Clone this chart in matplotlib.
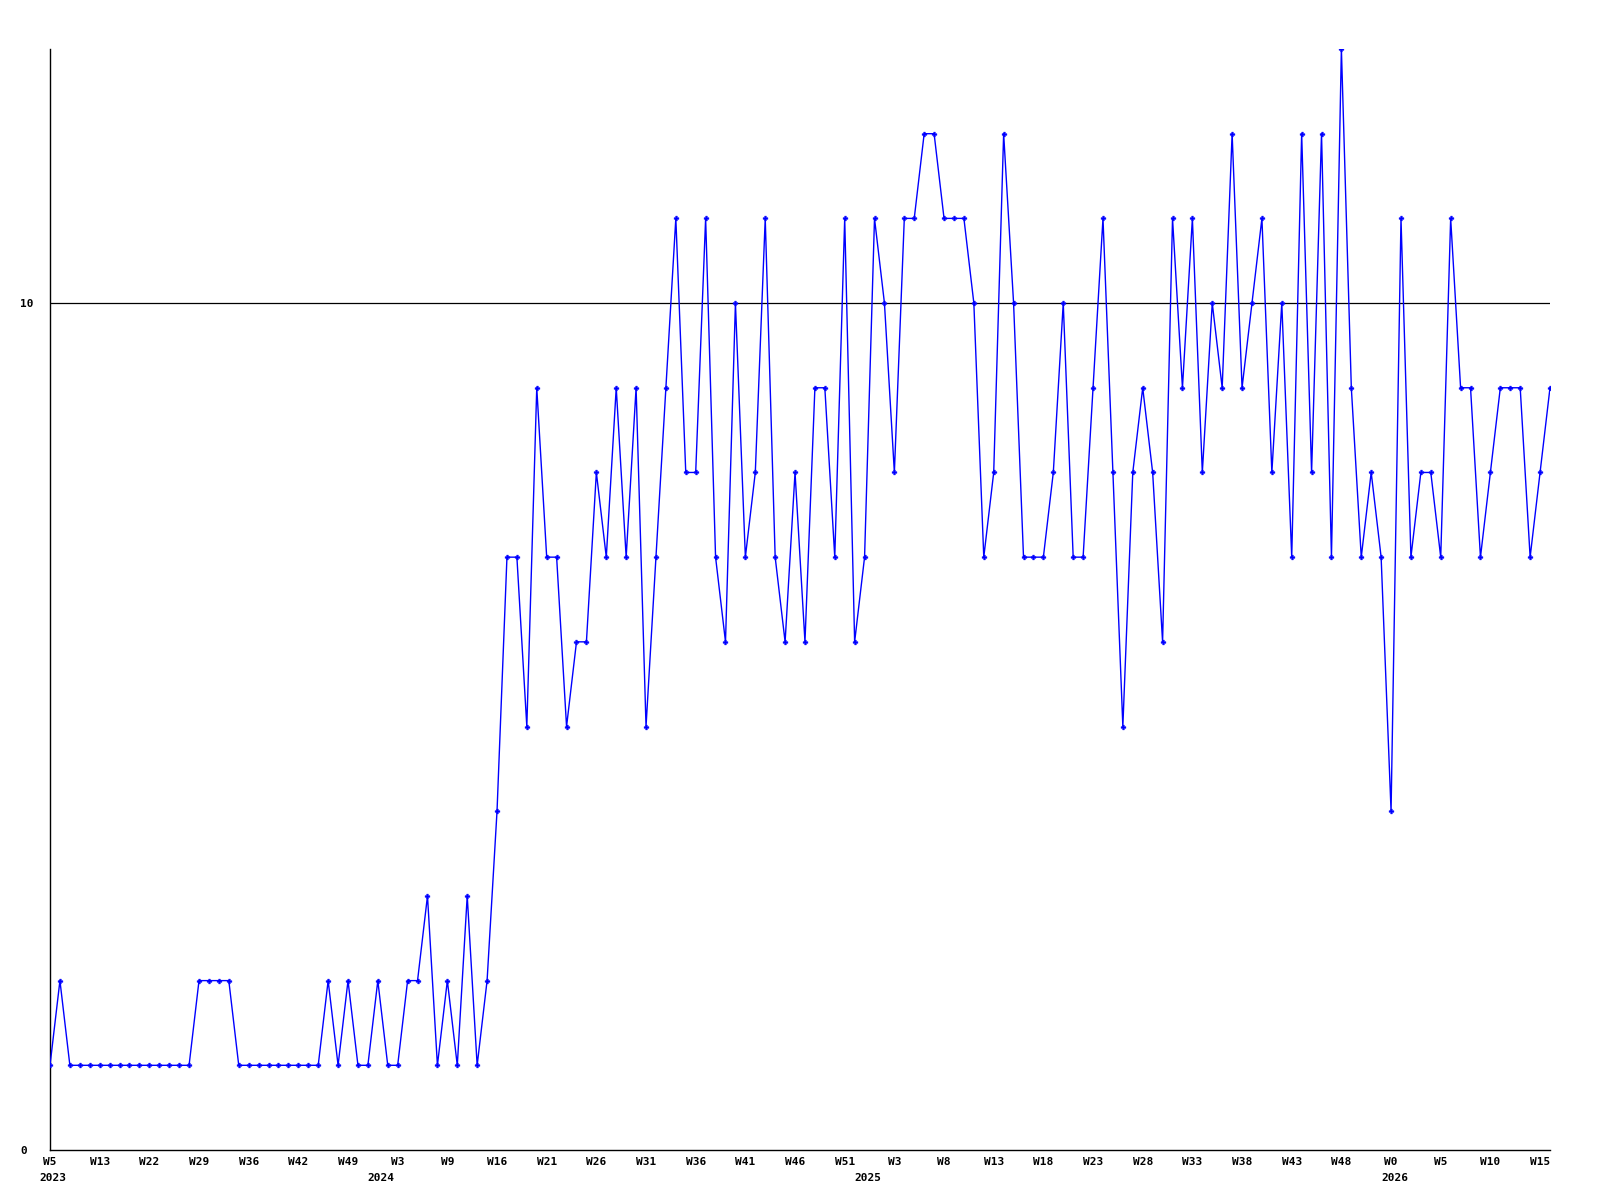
import matplotlib
matplotlib.use("Agg")
import matplotlib.pyplot as plt
import numpy as np

# ---- data ----
values = [1, 2, 1, 1, 1, 1, 1, 1, 1, 1, 1, 1, 1, 1, 1,
          2, 2, 2, 2,
          1, 1, 1, 1, 1, 1, 1, 1, 1,
          2, 1, 2, 1, 1, 2, 1, 1, 2, 2, 3, 1, 2, 1, 3, 1, 2,
          4, 7, 7, 5, 9, 7, 7, 5, 6, 6, 8, 7, 9, 7, 9, 5, 7, 9, 11, 8,
          8, 11, 7, 6, 10, 7, 8, 11, 7, 6, 8, 6, 9, 9, 7,
          11, 6, 7, 11, 10, 8, 11, 11, 12, 12, 11, 11, 11, 10, 7, 8, 12, 10,
          7, 7, 7, 8, 10, 7, 7, 9, 11, 8, 5, 8, 9, 8, 6, 11, 9, 11, 8, 10,
          9, 12, 9, 10, 11, 8, 10, 7, 12, 8, 12, 7, 13, 9, 7, 8, 7, 4, 11,
          7, 8, 8, 7, 11, 9, 9, 7, 8, 9, 9, 9, 7, 8, 9]
week_labels = ["W5", "W13", "W22", "W29", "W36", "W42", "W49", "W3", "W9", "W16",
               "W21", "W26", "W31", "W36", "W41", "W46", "W51", "W3", "W8", "W13",
               "W18", "W23", "W28", "W33", "W38", "W43", "W48", "W0", "W5", "W10", "W15"]
week_label_step = 5
year_labels = ["2023", "2024", "2025", "2026"]
year_label_pos = [0.3, 33.3, 82.3, 135.4]
y_ticks = [0, 10]
ref_line = 10

x = np.arange(len(values))

fig = plt.figure(figsize=(16, 12), dpi=100)
ax = fig.add_axes([50 / 1600, 50 / 1200, 1500 / 1600, 1101 / 1200])

ax.plot(x, values, color="#0000ff", linewidth=1.0, marker="P",
        markersize=3.5, markeredgewidth=0.3, zorder=3)
ax.axhline(ref_line, color="black", linewidth=0.9, zorder=2)

ax.set_xlim(0, len(values) - 1)
ax.set_ylim(0, 13)

for s in ["top", "right"]:
    ax.spines[s].set_visible(False)
for s in ["left", "bottom"]:
    ax.spines[s].set_color("black")
    ax.spines[s].set_linewidth(1.0)

font = dict(family="DejaVu Sans Mono", weight="bold", size=8)

ticks = list(range(0, len(values), week_label_step))[:len(week_labels)]
ax.set_xticks(ticks)
ax.set_xticklabels(week_labels, **font)
ax.tick_params(axis="x", length=0, pad=5)

ax.set_yticks(y_ticks)
ax.set_yticklabels([str(t) for t in y_ticks], **font)
ax.tick_params(axis="y", length=0, pad=21.5)
for lab in ax.get_yticklabels():
    lab.set_horizontalalignment("left")

for lbl, pos in zip(year_labels, year_label_pos):
    ax.annotate(lbl, xy=(pos, 0), xycoords=("data", "axes fraction"),
                xytext=(0, -20), textcoords="offset points",
                ha="center", va="center", **font)

fig.savefig("out.png", dpi=100, facecolor="white")
